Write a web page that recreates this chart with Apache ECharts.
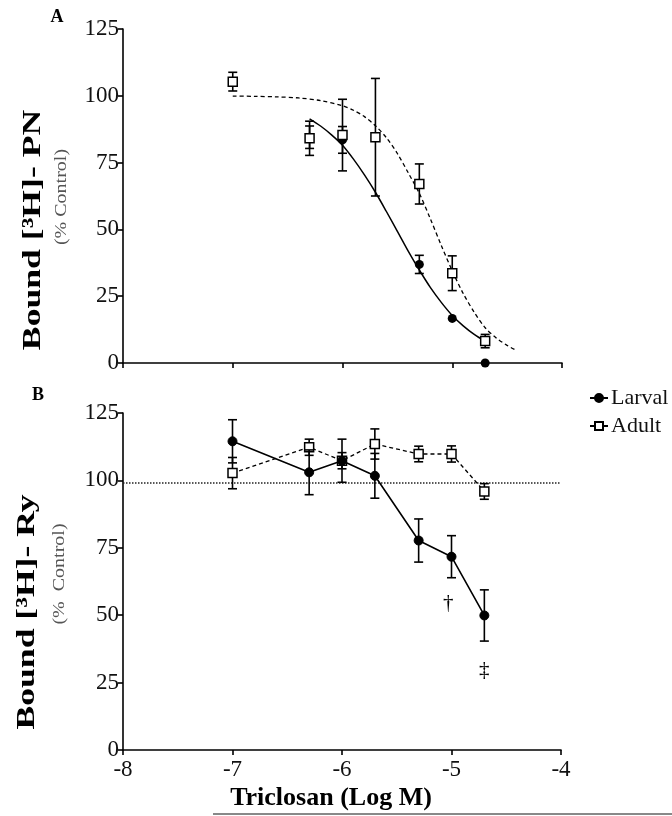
<!DOCTYPE html>
<html>
<head>
<meta charset="utf-8">
<script src="https://cdn.jsdelivr.net/npm/echarts@6/dist/echarts.min.js"></script>
<style>html,body{margin:0;padding:0;background:#fff}#c{width:672px;height:816px}</style>
</head>
<body>
<div id="c"></div>
<script>
// ---------- DATA ----------
const xTicks = [-8, -7, -6, -5, -4];
const yTicks = [0, 25, 50, 75, 100, 125];

// Panel A (PN binding)
const aAdultX = [-7, -6.3, -6, -5.7, -5.3, -5, -4.7];
const aAdultY = [105.3, 84.1, 85.3, 84.5, 67, 33.6, 8.2];
const aAdultErr = [3.5, 6.4, 13.4, 22, 7.5, 6.5, 2.5];
const aLarvalX = [-6.3, -6, -5.3, -5, -4.7];
const aLarvalY = [84.5, 83.5, 36.9, 16.7, 0];
const aLarvalErr = [4.2, 5, 3.4, 0, 0];

// fitted curves
const fitLarvalX = [-6.3, -6.2, -6.1, -6.0, -5.9, -5.8, -5.7, -5.6, -5.5, -5.4, -5.3, -5.2, -5.1, -5.0, -4.9, -4.8, -4.7];
const fitLarvalY = [91.4, 88.7, 85.4, 81.5, 76.3, 70.4, 63.9, 56.7, 49.3, 41.8, 34.8, 28.3, 22.7, 17.8, 13.9, 10.7, 8.1];
const fitAdultX = [-7.0, -6.8, -6.6, -6.4, -6.2, -6.0, -5.9, -5.8, -5.7, -5.6, -5.5, -5.4, -5.3, -5.2, -5.1, -5.0, -4.9, -4.8, -4.7, -4.6, -4.5, -4.42];
const fitAdultY = [99.9, 99.8, 99.6, 99.2, 98.2, 96.3, 94.6, 92.2, 88.8, 84.3, 78.4, 71.1, 63.5, 54.0, 44.0, 34.5, 26.0, 19.0, 13.2, 9.4, 6.6, 4.8];

// Panel B (Ry binding)
const bX = [-7, -6.3, -6, -5.7, -5.3, -5, -4.7];
const bLarvalY = [114.5, 103, 107.3, 101.7, 77.7, 71.7, 49.9];
const bLarvalErr = [8, 8.3, 8, 8.3, 8, 7.8, 9.5];
const bAdultY = [102.7, 112.3, 107.3, 113.5, 109.8, 109.8, 95.9];
const bAdultErr = [5.8, 3, 3, 5.6, 2.9, 3, 2.9];
const controlLevel = 99;
const marks = [[-5.03, 54.5, '\u2020'], [-4.7, 29.4, '\u2021']];

// ---------- BUILD ----------
const FONT = '"Liberation Serif", "Times New Roman", serif';
const zip = (xs, ys) => xs.map((x, i) => [x, ys[i]]);
const errData = (xs, ys, es) => xs.map((x, i) => [x, ys[i] - es[i], ys[i] + es[i]]).filter((d, i) => es[i] > 0);

function errSeries(data, xi, yi, z) {
  return {
    type: 'custom', xAxisIndex: xi, yAxisIndex: yi, z: z, silent: true,
    data: data,
    renderItem: function (params, api) {
      const x = api.value(0), lo = api.value(1), hi = api.value(2);
      const a = api.coord([x, lo]), b = api.coord([x, hi]);
      const w = 4.5;
      const st = { stroke: '#000', lineWidth: 1.6 };
      return {
        type: 'group', children: [
          { type: 'line', shape: { x1: a[0], y1: a[1], x2: b[0], y2: b[1] }, style: st },
          { type: 'line', shape: { x1: a[0] - w, y1: a[1], x2: a[0] + w, y2: a[1] }, style: st },
          { type: 'line', shape: { x1: b[0] - w, y1: b[1], x2: b[0] + w, y2: b[1] }, style: st }
        ]
      };
    }
  };
}

function xAxis(gi, showLabels) {
  return {
    type: 'value', gridIndex: gi, min: -8, max: -4, interval: 1,
    axisLine: { show: true, onZero: false, lineStyle: { color: '#000', width: 1.6 } },
    axisTick: { show: true, inside: false, length: 5, lineStyle: { color: '#000', width: 1.6 } },
    axisLabel: { show: showLabels, margin: 8, fontFamily: FONT, fontSize: 23, color: '#111' },
    splitLine: { show: false }
  };
}
function yAxis(gi) {
  return {
    type: 'value', gridIndex: gi, min: 0, max: 125, interval: 25,
    axisLine: { show: true, onZero: false, lineStyle: { color: '#000', width: 1.6 } },
    axisTick: { show: true, inside: false, length: 5, lineStyle: { color: '#000', width: 1.6 } },
    axisLabel: { show: true, margin: 4, fontFamily: FONT, fontSize: 23, color: '#111' },
    splitLine: { show: false }
  };
}

const option = {
  backgroundColor: '#fff',
  animation: false,
  grid: [
    { left: 123, top: 29, width: 439, height: 334 },
    { left: 123, top: 413, width: 438, height: 337 }
  ],
  xAxis: [xAxis(0, false), xAxis(1, true)],
  yAxis: [yAxis(0), yAxis(1)],
  legend: {
    data: ['Larval', 'Adult'], orient: 'vertical', left: 584, top: 382,
    itemWidth: 18, itemHeight: 10, itemGap: 6, selectedMode: false,
    textStyle: { fontFamily: FONT, fontSize: 22, color: '#111', padding: [0, 0, 0, -2] }
  },
  series: [
    // Panel B first so legend picks these
    errSeries(errData(bX, bAdultY, bAdultErr), 1, 1, 2),
    {
      name: 'Adult', type: 'line', xAxisIndex: 1, yAxisIndex: 1, z: 3,
      data: zip(bX, bAdultY), symbol: 'rect', symbolSize: 9,
      itemStyle: { color: '#fff', borderColor: '#000', borderWidth: 1.5 },
      lineStyle: { color: '#000', width: 1.3, type: [4, 3] }
    },
    errSeries(errData(bX, bLarvalY, bLarvalErr), 1, 1, 4),
    {
      name: 'Larval', type: 'line', xAxisIndex: 1, yAxisIndex: 1, z: 5,
      data: zip(bX, bLarvalY), symbol: 'circle', symbolSize: 9,
      itemStyle: { color: '#000', borderColor: '#000', borderWidth: 1 },
      lineStyle: { color: '#000', width: 1.6 }
    },
    {
      name: 'control', type: 'line', xAxisIndex: 1, yAxisIndex: 1, z: 1,
      data: [[-8, controlLevel], [-4, controlLevel]], symbol: 'none',
      lineStyle: { color: '#222', width: 1.5, type: [1.5, 1.5] }
    },
    {
      name: 'marks', type: 'scatter', xAxisIndex: 1, yAxisIndex: 1, z: 6,
      data: marks, symbolSize: 1, itemStyle: { color: 'rgba(0,0,0,0)' },
      label: { show: true, position: 'inside', formatter: p => p.value[2], fontFamily: FONT, fontSize: 21, color: '#000', textBorderWidth: 0, opacity: 1 }
    },
    // Panel A
    {
      name: 'fitAdult', type: 'line', xAxisIndex: 0, yAxisIndex: 0, z: 1,
      data: zip(fitAdultX, fitAdultY), symbol: 'none', smooth: 0.3,
      lineStyle: { color: '#000', width: 1.3, type: [4, 3] }
    },
    {
      name: 'fitLarval', type: 'line', xAxisIndex: 0, yAxisIndex: 0, z: 1,
      data: zip(fitLarvalX, fitLarvalY), symbol: 'none', smooth: 0.3,
      lineStyle: { color: '#000', width: 1.5 }
    },
    errSeries(errData(aLarvalX, aLarvalY, aLarvalErr), 0, 0, 2),
    {
      name: 'LarvalA', type: 'scatter', xAxisIndex: 0, yAxisIndex: 0, z: 3,
      data: zip(aLarvalX, aLarvalY), symbol: 'circle', symbolSize: 9,
      itemStyle: { color: '#000', opacity: 1 }
    },
    errSeries(errData(aAdultX, aAdultY, aAdultErr), 0, 0, 4),
    {
      name: 'AdultA', type: 'scatter', xAxisIndex: 0, yAxisIndex: 0, z: 5,
      data: zip(aAdultX, aAdultY), symbol: 'rect', symbolSize: 9,
      itemStyle: { color: '#fff', borderColor: '#000', borderWidth: 1.5, opacity: 1 }
    }
  ],
  graphic: [
    { type: 'text', x: 57, y: 17, style: { text: 'A', fontFamily: FONT, fontWeight: 'bold', fontSize: 18, fill: '#000', textAlign: 'center', textVerticalAlign: 'middle' } },
    { type: 'text', x: 38, y: 395, style: { text: 'B', fontFamily: FONT, fontWeight: 'bold', fontSize: 18, fill: '#000', textAlign: 'center', textVerticalAlign: 'middle' } },
    { type: 'text', x: 33, y: 230, rotation: Math.PI / 2, scaleX: 1.37, style: { text: 'Bound [\u00B3H]- PN', fontFamily: FONT, fontWeight: 'bold', fontSize: 26, fill: '#000', textAlign: 'center', textVerticalAlign: 'middle' } },
    { type: 'text', x: 62, y: 197, rotation: Math.PI / 2, scaleX: 1.25, style: { text: '(% Control)', fontFamily: FONT, fontSize: 16, fill: '#555', textAlign: 'center', textVerticalAlign: 'middle' } },
    { type: 'text', x: 27, y: 612, rotation: Math.PI / 2, scaleX: 1.37, style: { text: 'Bound [\u00B3H]- Ry', fontFamily: FONT, fontWeight: 'bold', fontSize: 26, fill: '#000', textAlign: 'center', textVerticalAlign: 'middle' } },
    { type: 'text', x: 60, y: 574, rotation: Math.PI / 2, scaleX: 1.25, style: { text: '(%  Control)', fontFamily: FONT, fontSize: 16, fill: '#555', textAlign: 'center', textVerticalAlign: 'middle' } },
    { type: 'text', x: 331, y: 798, style: { text: 'Triclosan (Log M)', fontFamily: FONT, fontWeight: 'bold', fontSize: 26, fill: '#000', textAlign: 'center', textVerticalAlign: 'middle' } },
    { type: 'line', shape: { x1: 213, y1: 814, x2: 672, y2: 814 }, style: { stroke: '#888', lineWidth: 2 } }
  ]
};

const chart = echarts.init(document.getElementById('c'), null, { renderer: 'canvas' });
chart.setOption(option);
</script>
</body>
</html>
